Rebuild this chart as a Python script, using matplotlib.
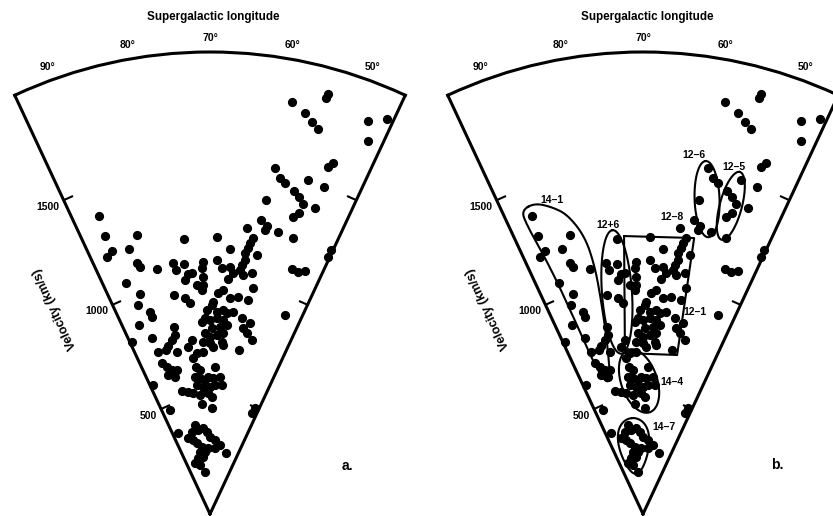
import numpy as np
import matplotlib.pyplot as plt

plt.rcParams['font.family'] = ['Liberation Sans', 'DejaVu Sans']
plt.rcParams['font.weight'] = 'bold'

# ─────────────────────────────────────────────
# GALAXIES: supergalactic longitude (deg), velocity (km/s)
# ─────────────────────────────────────────────
lon = [58.7, 54.3, 54.4, 56.6, 55.4, 54.4, 48.1, 45.9, 47.1, 59.4,
       50.7, 51.3, 58.3, 57.2, 53.6, 50.8, 55.4, 54.4, 59.8, 53.3,
       51.1, 54.3, 53.5, 60.1, 58.9, 59.1, 62.7, 56.4, 68.6, 61.1,
       61.6, 61.8, 62.4, 53.2, 65.7, 59.8, 62.2, 62.7, 63.0, 71.5,
       71.9, 68.5, 67.3, 65.4, 64.5, 62.1, 60.2, 74.3, 51.5, 50.0,
       48.7, 45.4, 45.4, 49.4, 90.4, 90.6, 84.6, 75.5, 90.5, 91.9,
       86.9, 86.3, 85.7, 82.3, 78.3, 77.9, 75.9, 75.3, 89.9, 87.7,
       88.9, 86.5, 86.5, 90.6, 88.4, 79.3, 76.1, 76.6, 75.4, 80.9,
       81.1, 82.4, 83.9, 85.0, 87.7, 81.6, 76.0, 77.4, 87.8, 86.4,
       84.9, 86.7, 84.3, 82.8, 94.4, 93.7, 71.6, 65.6, 73.3, 72.1,
       71.7, 66.6, 67.8, 59.1, 62.6, 64.7, 59.9, 69.1, 69.5, 70.9,
       68.1, 66.3, 65.2, 63.4, 60.8, 58.2, 72.5, 71.5, 70.0, 68.0,
       66.1, 69.5, 66.9, 65.0, 71.6, 70.0, 67.9, 65.8, 59.8, 58.5,
       56.5, 72.2, 70.0, 66.1, 65.5, 68.9, 60.0, 74.7, 72.4, 76.2,
       75.4, 74.0, 68.1, 76.2, 74.2, 72.1, 70.7, 68.6, 65.8, 75.9,
       73.0, 70.0, 67.8, 64.8, 77.9, 74.8, 70.8, 69.2, 83.0, 80.2,
       74.3, 69.1, 91.0, 91.4, 79.6, 82.5, 86.0, 82.7, 77.9, 74.5,
       72.3, 70.0, 66.1, 61.8, 80.7, 77.0, 79.1, 81.9, 76.7, 74.6,
       71.5, 65.6, 86.5, 81.5, 55.2, 76.8, 47.5, 46.9]
vel = [1820, 1889, 1868, 1783, 1752, 1731, 1833, 1873, 1753, 1526,
       1612, 1587, 1484, 1471, 1509, 1501, 1443, 1425, 1381, 1401,
       1402, 1334, 1359, 1290, 1271, 1254, 1250, 1258, 1201, 1208,
       1184, 1162, 1139, 1248, 1149, 1139, 1110, 1087, 1064, 1093,
       1064, 1100, 1065, 1071, 1047, 1045, 1058, 1045, 1117, 1116,
       1131, 1258, 1224, 921, 1377, 1287, 1248, 1196, 1215, 1198,
       1199, 1131, 1112, 1085, 1097, 1067, 1087, 1043, 1062, 999,
       957, 913, 888, 874, 801, 961, 1019, 940, 919, 823,
       790, 771, 749, 735, 737, 717, 757, 728, 685, 665,
       645, 628, 613, 639, 819, 610, 1028, 1020, 993, 970,
       992, 971, 956, 995, 949, 938, 941, 919, 905, 883,
       876, 885, 872, 882, 858, 844, 833, 847, 840, 848,
       842, 804, 812, 821, 783, 768, 775, 784, 817, 798,
       775, 746, 739, 748, 734, 724, 721, 698, 703, 679,
       641, 625, 638, 598, 589, 580, 594, 587, 596, 561,
       552, 551, 559, 561, 528, 517, 523, 508, 546, 537,
       476, 458, 482, 375, 391, 365, 341, 328, 367, 372,
       357, 335, 321, 302, 311, 294, 273, 246, 250, 271,
       284, 285, 229, 216, 272, 182, 472, 497]

lon_ticks = [50, 60, 70, 80, 90]
vel_ticks = [500, 1000, 1500]

# ─────────────────────────────────────────────
# GROUPS (panel b)
# ─────────────────────────────────────────────
# ellipses: centre, semi-axes (km/s), tilt (deg), taper
ell_lon = [76.7, 58.5, 54.1, 71.7, 77.5]
ell_vel = [968, 1391, 1387, 576, 297]
ell_a = [268, 165, 152, 143, 121]
ell_b = [65, 54, 48, 78, 65]
ell_tilt = [94, 92, 75, 109, 94]
ell_taper = [0.0, 0.0, 0.0, 0.0, 0.3]

# group 14-1 boundary, traced round the loop
loop_lon = [91.7, 89.2, 86.5, 84.1, 81.8, 81.0, 81.1, 81.7, 84.1,
            87.6, 89.2, 90.5, 92.0]
loop_vel = [1416, 1425, 1386, 1335, 1225, 1089, 944, 769, 567,
            645, 857, 1127, 1363]

# group 12-1 box corners
box_lon = [73.9, 59.5, 57.9, 76.4, 73.9]
box_vel = [1206, 1215, 704, 701, 1206]

group_names = ['14–1', '12+6', '12–6', '12–5', '12–8', '12–1', '14–4', '14–7']
name_lon = [86.2, 76.8, 61.9, 55.3, 64.4, 55.6, 57.6, 56.4]
name_vel = [1416, 1262, 1568, 1555, 1292, 904, 583, 387]


def to_xy(lo, v):
    a = np.deg2rad(70 - np.asarray(lo))
    return np.asarray(v) * np.sin(a), np.asarray(v) * np.cos(a)


def to_polar(x, y):
    th = np.deg2rad(70 - np.rad2deg(np.arctan2(x, y)))
    return th, np.hypot(x, y)


def ellipse(lon0, v0, a, b, tilt, taper=0.0):
    t = np.linspace(0, 2 * np.pi, 160)
    u = a * np.cos(t)
    w = b * np.sin(t) * (1 + taper * np.cos(t))
    ang = np.deg2rad(tilt)
    x0, y0 = to_xy(lon0, v0)
    x = x0 + u * np.cos(ang) - w * np.sin(ang)
    y = y0 + u * np.sin(ang) + w * np.cos(ang)
    return to_polar(x, y)


def rounded_loop(lo, v, n=4):
    # corner cutting to round off the traced boundary
    x, y = to_xy(lo, v)
    for _ in range(n):
        x2, y2 = np.roll(x, -1), np.roll(y, -1)
        x = np.column_stack([0.75 * x + 0.25 * x2, 0.25 * x + 0.75 * x2]).ravel()
        y = np.column_stack([0.75 * y + 0.25 * y2, 0.25 * y + 0.75 * y2]).ravel()
    x, y = np.append(x, x[0]), np.append(y, y[0])
    return to_polar(x, y)


def wedge(fig, left_px):
    ax = fig.add_axes([left_px / 833, 2 / 516, 462 / 833, 462 / 516],
                      projection='polar')
    ax.set_theta_offset(np.deg2rad(20))
    ax.set_thetamin(45)
    ax.set_thetamax(95)
    ax.set_rlim(0, 2000)
    ax.grid(False)
    ax.set_xticks(np.deg2rad(lon_ticks))
    ax.set_xticklabels([f'{t}°' for t in lon_ticks])
    ax.set_yticks(vel_ticks)
    ax.set_yticklabels([str(v) for v in vel_ticks])
    ax.tick_params(axis='x', direction='in', length=7, width=1.5,
                   pad=3, labelsize=7.5)
    ax.tick_params(axis='y', left=True, right=True, labelleft=False,
                   labelright=True, direction='in', length=7, width=1.5,
                   pad=3, labelsize=7.5)
    for s in ax.spines.values():
        s.set_linewidth(2.2)
    ax.plot(np.deg2rad(lon), vel, 'o', color='black', ms=5.6,
            mec='black', clip_on=False)
    ax.text(np.deg2rad(107), 1113, 'Velocity (km/s)', rotation=115,
            ha='center', va='center', fontsize=9, rotation_mode='anchor')
    return ax


fig = plt.figure(figsize=(8.33, 5.16), dpi=100)

ax_a = wedge(fig, 210 - 231)
ax_b = wedge(fig, 643 - 231)

# group outlines and names on panel b
for i in range(len(ell_lon)):
    th, r = ellipse(ell_lon[i], ell_vel[i], ell_a[i], ell_b[i],
                    ell_tilt[i], ell_taper[i])
    ax_b.plot(th, r, color='black', lw=1.5, clip_on=False)
th, r = rounded_loop(loop_lon, loop_vel)
ax_b.plot(th, r, color='black', lw=1.5, clip_on=False)
ax_b.plot(np.deg2rad(box_lon), box_vel, color='black', lw=1.5)
for name, gl, gv in zip(group_names, name_lon, name_vel):
    ax_b.text(np.deg2rad(gl), gv, name, ha='center', va='center',
              fontsize=7.5)

fig.text(213 / 833, 1 - 17 / 516, 'Supergalactic longitude', ha='center',
         va='center', fontsize=8.4)
fig.text(647 / 833, 1 - 17 / 516, 'Supergalactic longitude', ha='center',
         va='center', fontsize=8.4)
fig.text(347 / 833, 1 - 466 / 516, 'a.', ha='center', va='center', fontsize=10)
fig.text(777 / 833, 1 - 465 / 516, 'b.', ha='center', va='center', fontsize=10)

fig.savefig('out.png', dpi=100)
